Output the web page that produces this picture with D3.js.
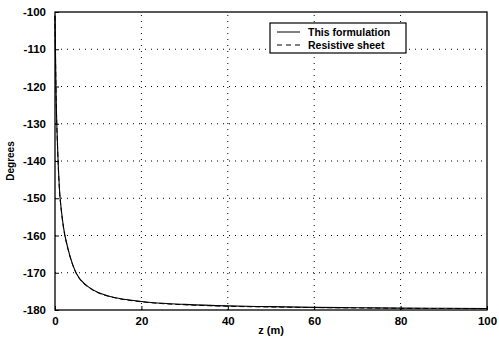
<!DOCTYPE html>
<html>
<head>
<meta charset="utf-8">
<script src="https://d3js.org/d3.v7.min.js"></script>
<style>
  body { margin: 0; background: #fff; }
  svg text { font-family: "Liberation Sans", Arial, sans-serif; font-weight: bold; fill: #000; }
  .grid line { stroke: #000; stroke-width: 1; stroke-dasharray: 1,5; }
</style>
</head>
<body>
<div id="chart"></div>
<script>
// distance along the sheet (m)
const zVals = [0, 0.1, 0.25, 0.5, 0.75, 1, 1.5, 2, 3, 4, 5, 6, 8, 10, 12, 15, 20, 25, 30, 40, 50, 60, 70, 80, 90, 100];
const thisFormulation = [-101, -110, -122, -133, -141, -147, -153.5, -158, -163.5, -167.5, -170.3, -172, -174, -175.3, -176.1, -176.9, -177.7, -178.2, -178.5, -178.9, -179.1, -179.3, -179.4, -179.5, -179.55, -179.6];
const resistiveSheet = [-101, -110.4, -122.4, -133.4, -141.3, -147.3, -153.7, -158.2, -163.6, -167.6, -170.4, -172.1, -174.1, -175.4, -176.2, -177.0, -177.8, -178.3, -178.6, -179.0, -179.2, -179.35, -179.45, -179.55, -179.6, -179.65];
const xTicks = [0, 20, 40, 60, 80, 100];
const yTicks = [-180, -170, -160, -150, -140, -130, -120, -110, -100];
const legendLabels = ["This formulation", "Resistive sheet"];

const W = 499, H = 337;
const m = {left: 55, right: 12, top: 12, bottom: 27};

const svg = d3.select("#chart").append("svg").attr("width", W).attr("height", H);

const x = d3.scaleLinear().domain([0, 100]).range([m.left, W - m.right]);
const y = d3.scaleLinear().domain([-180, -100]).range([H - m.bottom, m.top]);

// grid
const grid = svg.append("g").attr("class", "grid");
grid.selectAll(".vx").data(xTicks.slice(1, -1)).enter().append("line")
  .attr("x1", d => x(d)).attr("x2", d => x(d))
  .attr("y1", y(-180)).attr("y2", y(-100));
grid.selectAll(".hy").data(yTicks.slice(1, -1)).enter().append("line")
  .attr("y1", d => y(d)).attr("y2", d => y(d))
  .attr("x1", x(0)).attr("x2", x(100));

// axes
const fmt = d => String(d);
const xAxis = svg.append("g").attr("transform", "translate(0," + y(-180) + ")")
  .call(d3.axisBottom(x).tickValues(xTicks).tickFormat(fmt).tickSize(-4).tickPadding(7));
const yAxis = svg.append("g").attr("transform", "translate(" + x(0) + ",0)")
  .call(d3.axisLeft(y).tickValues(yTicks).tickFormat(fmt).tickSize(-4).tickPadding(9));
[xAxis, yAxis].forEach(a => {
  a.select(".domain").remove();
  a.selectAll("text").attr("font-size", 11.5).style("font-family", "Liberation Sans, Arial, sans-serif").style("font-weight", "bold");
  a.selectAll("line").attr("stroke", "#000");
});

// frame
svg.append("rect")
  .attr("x", x(0)).attr("y", y(-100))
  .attr("width", x(100) - x(0)).attr("height", y(-180) - y(-100))
  .attr("fill", "none").attr("stroke", "#000").attr("stroke-width", 1.3);

// lines
const line = d3.line().x((d, i) => x(zVals[i])).y(d => y(d)).curve(d3.curveMonotoneX);
svg.append("path").datum(thisFormulation).attr("d", line)
  .attr("fill", "none").attr("stroke", "#000").attr("stroke-width", 1.1);
svg.append("path").datum(resistiveSheet).attr("d", line)
  .attr("fill", "none").attr("stroke", "#000").attr("stroke-width", 1)
  .attr("stroke-dasharray", "5,3");

// axis labels
svg.append("text").attr("x", x(50)).attr("y", H - 3)
  .attr("text-anchor", "middle").attr("font-size", 11).text("z (m)");
svg.append("text").attr("transform", "translate(14," + y(-140) + ") rotate(-90)")
  .attr("text-anchor", "middle").attr("font-size", 10).text("Degrees");

// legend
const lg = svg.append("g").attr("transform", "translate(270,23)");
lg.append("rect").attr("width", 136).attr("height", 30)
  .attr("fill", "#fff").attr("stroke", "#000").attr("stroke-width", 1.2);
legendLabels.forEach((t, i) => {
  const yy = 9 + i * 13;
  lg.append("line").attr("x1", 7).attr("x2", 30).attr("y1", yy).attr("y2", yy)
    .attr("stroke", "#000").attr("stroke-dasharray", i ? "5,4" : null);
  lg.append("text").attr("x", 38).attr("y", yy + 4).attr("font-size", 10.5).text(t);
});
</script>
</body>
</html>
